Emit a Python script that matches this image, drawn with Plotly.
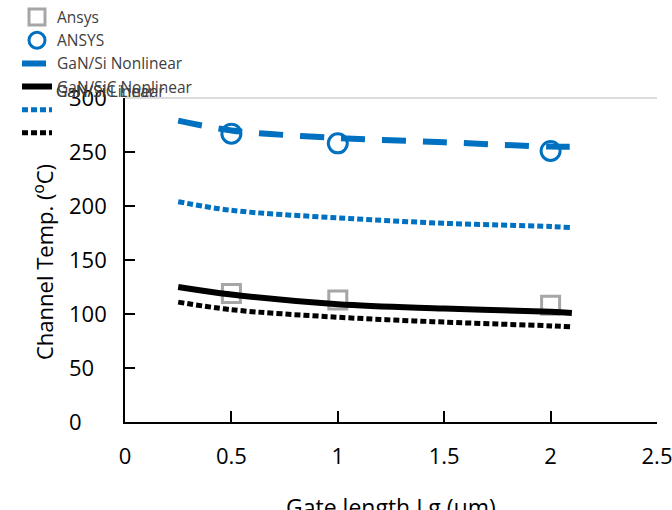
import plotly.graph_objects as go

# Data
x_line = [0.25, 0.5, 1.0, 1.5, 2.0, 2.1]
si_nonlinear = [279, 270, 263, 259, 255, 255]
si_linear = [204, 196, 189, 184, 181, 180]
sic_nonlinear = [125, 118, 109, 105, 102, 101]
sic_linear = [111, 104, 97, 92.5, 89, 88]

x_ansys_sq = [0.5, 1.0, 2.0]
ansys_sq = [119, 113, 108]
x_ansys_circ = [0.5, 1.0, 2.0]
ansys_circ = [267, 258, 251]

x_ticks = [0, 0.5, 1, 1.5, 2, 2.5]
x_ticklabels = ["0", "0.5", "1", "1.5", "2", "2.5"]
y_ticks = [0, 50, 100, 150, 200, 250, 300]
y_ticklabels = ["0", "50", "100", "150", "200", "250", "300"]

BLUE = "#0070C0"
GRAY = "#A6A6A6"
FONT = "Open Sans"
W, H = 672, 510
ML, MR, MT, MB = 0, 15, 98, 88
PW = W - ML - MR          # paper width in px
PH = H - MT - MB          # plot height in px
AX_LEFT = 125             # pixel position of the y axis


def px_x(p):
    return (p - ML) / PW


def px_y(p):
    return (H - MB - p) / PH


fig = go.Figure()

fig.add_trace(go.Scatter(x=x_ansys_sq, y=ansys_sq, mode="markers", name="Ansys",
                         marker=dict(symbol="square-open", size=18, color=GRAY, line=dict(width=3, color=GRAY))))
fig.add_trace(go.Scatter(x=x_ansys_circ, y=ansys_circ, mode="markers", name="ANSYS",
                         marker=dict(symbol="circle-open", size=19, color=BLUE, line=dict(width=3, color=BLUE))))
fig.add_trace(go.Scatter(x=x_line, y=si_nonlinear, mode="lines", name="GaN/Si Nonlinear",
                         line=dict(color=BLUE, width=6, dash="24px,17px", shape="spline")))
fig.add_trace(go.Scatter(x=x_line, y=sic_nonlinear, mode="lines", name="GaN/SiC Nonlinear",
                         line=dict(color="black", width=6, shape="spline")))
fig.add_trace(go.Scatter(x=x_line, y=si_linear, mode="lines", name=" ",
                         line=dict(color=BLUE, width=5, dash="6px,3px", shape="spline")))
fig.add_trace(go.Scatter(x=x_line, y=sic_linear, mode="lines", name="  ", yaxis="y2",
                         line=dict(color="black", width=5, dash="6px,3px", shape="spline")))

# Top light border
fig.add_shape(type="line", xref="x domain", yref="paper", x0=0, x1=1, y0=1, y1=1,
              line=dict(color="#D0D0D0", width=1.5))

# Overlapping legend labels (as in the reference)
for txt in ["GaN/Si Linear", "GaN/SiC Linear"]:
    fig.add_annotation(text=txt, xref="paper", yref="paper", x=px_x(54), y=px_y(91),
                       xanchor="left", yanchor="middle", showarrow=False,
                       font=dict(family=FONT, size=15.5, color="#404040"))

# Y axis title
fig.add_annotation(text="Channel Temp. (<sup>o</sup>C)", xref="paper", yref="paper",
                   x=px_x(43), y=px_y(262), textangle=-90,
                   xanchor="center", yanchor="middle", showarrow=False,
                   font=dict(family=FONT, size=22, color="black"))

# X axis title (partly cut by the bottom edge, as in the reference)
fig.add_annotation(text="Gate length Lg (μm)", xref="x domain", yref="paper",
                   x=0.5, y=px_y(489), xanchor="center", yanchor="top", showarrow=False,
                   font=dict(family=FONT, size=23, color="black"))

fig.update_layout(
    width=W, height=H,
    margin=dict(l=ML, r=MR, t=MT, b=MB, autoexpand=False),
    paper_bgcolor="white", plot_bgcolor="white",
    font=dict(family=FONT, size=22, color="black"),
    showlegend=True,
    legend=dict(x=px_x(17), y=px_y(0.5), xanchor="left", yanchor="top",
                bgcolor="rgba(0,0,0,0)", font=dict(family=FONT, size=15.5, color="#404040"),
                itemsizing="trace", tracegroupgap=0),
    xaxis=dict(domain=[px_x(AX_LEFT), 1], range=[0, 2.5], tickvals=x_ticks, ticktext=x_ticklabels,
               showline=True, linecolor="black", linewidth=1.5, ticks="inside", ticklen=11, tickwidth=1.5,
               tickcolor="black", showgrid=False, zeroline=False, automargin=False, ticklabelstandoff=14,
               ticklabeloverflow="allow"),
    yaxis=dict(range=[0, 300], tickvals=y_ticks, showticklabels=False,
               showline=True, linecolor="black", linewidth=1.5, ticks="inside", ticklen=10, tickwidth=1.5,
               tickcolor="black", showgrid=False, zeroline=False, automargin=False),
    yaxis2=dict(range=[0, 300], tickvals=y_ticks, ticktext=y_ticklabels, overlaying="y", side="right",
                anchor="free", position=px_x(68), showline=False, ticks="", showgrid=False,
                zeroline=False, automargin=False, tickfont=dict(size=22)),
)

fig.write_html("out.html")
